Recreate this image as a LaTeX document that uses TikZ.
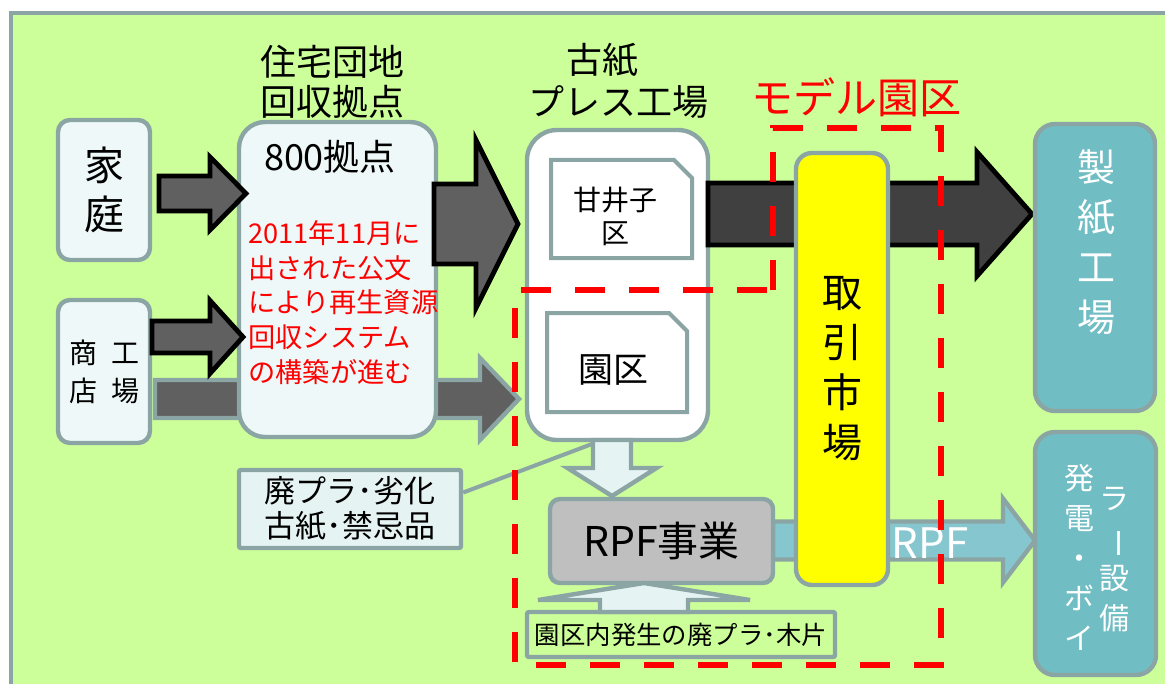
\documentclass[tikz,border=0pt]{standalone}
\usepackage{fontspec}
\setmainfont{Noto Sans CJK JP}
\usetikzlibrary{calc}
\definecolor{bggreen}{RGB}{204,255,153}
\definecolor{edgegray}{RGB}{139,165,165}
\definecolor{paleblue}{RGB}{239,248,248}
\definecolor{palecyan}{RGB}{230,243,243}
\definecolor{arrowgray}{RGB}{96,96,96}
\definecolor{arrowdark}{RGB}{64,64,64}
\definecolor{boxteal}{RGB}{112,189,196}
\definecolor{rpfteal}{RGB}{134,198,206}
\definecolor{rpfgray}{RGB}{191,191,191}
\definecolor{marketyellow}{RGB}{255,255,0}
\tikzset{
  box/.style={draw=edgegray, line width=2.2pt, fill=paleblue, rounded corners=6pt, inner sep=0pt},
  doc/.style={draw=edgegray, line width=2pt, fill=white},
  blackarrow/.style={draw=black, line width=2.4pt, fill=arrowgray},
  darkarrow/.style={draw=black, line width=2.4pt, fill=arrowdark},
  grayarrow/.style={draw=edgegray, line width=2.2pt, fill=arrowgray},
  lightarrow/.style={draw=edgegray, line width=2.2pt, fill=palecyan},
  rpfarrow/.style={draw=edgegray, line width=2.2pt, fill=rpfteal},
  callout/.style={draw=edgegray, line width=2pt},
  zone/.style={draw=red, line width=3pt, dash pattern=on 15pt off 12pt}
}
% block arrows: [style](start)(tip){shaft half}{head half}{head length}
\def\harrow[#1](#2)(#3)#4#5#6{\draw[#1] ($(#2)-(0,#4)$) -- ($(#3)-(#6,#4)$) -- ($(#3)-(#6,#5)$) -- (#3) -- ($(#3)-(#6,-#5)$) -- ($(#3)-(#6,-#4)$) -- ($(#2)-(0,-#4)$) -- cycle;}
\def\varrow[#1](#2)(#3)#4#5#6{\draw[#1] ($(#2)-(#4,0)$) -- ($(#3)-(#4,#6)$) -- ($(#3)-(#5,#6)$) -- (#3) -- ($(#3)-(-#5,#6)$) -- ($(#3)-(-#4,#6)$) -- ($(#2)-(-#4,0)$) -- cycle;}

\begin{document}
\begin{tikzpicture}[x=0.5pt,y=-0.5pt]
	%%%%% START %%%%%
	\useasboundingbox[fill=white] (0,0) rectangle (1165,684);
	\draw[draw=edgegray, line width=2pt, fill=bggreen] (11,13) rectangle (1200,720);
	
	% sources
	\node[box, minimum width=46pt, minimum height=70pt, align=center, font=\fontsize{20pt}{24.5pt}\selectfont] (kate) at (104,190) {家\\庭};
	\node[box, minimum width=46pt, minimum height=71.5pt, align=center, font=\fontsize{14pt}{19pt}\selectfont] (shoko) at (104,371.5) {商\hspace{7pt}工\\店\hspace{7pt}場};
	
	\coordinate (a3s) at (155,399);
	\coordinate (a3t) at (519,399);
	\harrow[grayarrow](a3s)(a3t){19}{41}{39}
	
	% collection points
	\node[box, rounded corners=13pt, minimum width=98.5pt, minimum height=157.5pt] (kyoten) at (337.5,279.5) {};
	\node[align=center, font=\fontsize{18pt}{20pt}\selectfont] (kyotentitle) at (332,82) {住宅団地\\回収拠点};
	\node[font=\fontsize{18pt}{20pt}\selectfont] (kyotennum) at (330,157) {800拠点};
	\node[anchor=west, inner sep=0pt, align=left, text=red, font=\fontsize{13.6pt}{17.4pt}\selectfont] (kyotennote) at (248,302.5) {2011年11月に\\出された公文\\により再生資源\\回収システム\\の構築が進む};
	
	\coordinate (a1s) at (159,193.5);
	\coordinate (a1t) at (246,193.5);
	\harrow[blackarrow](a1s)(a1t){17.5}{36.5}{36}
	\coordinate (a2s) at (152,337);
	\coordinate (a2t) at (243,337);
	\harrow[blackarrow](a2s)(a2t){16}{36.5}{33}
	
	% press plant
	\node[box, fill=white, rounded corners=15pt, minimum width=90.5pt, minimum height=155pt] (press) at (617.5,285) {};
	\node[font=\fontsize{18pt}{20pt}\selectfont] (presstop) at (602,60) {古紙};
	\node[font=\fontsize{18pt}{20pt}\selectfont] (pressname) at (618,102) {プレス工場};
	\draw[doc] (551,160) -- (674,160) -- (692,178) -- (692,258) -- (551,258) -- cycle;
	\node[align=center, font=\fontsize{14pt}{16.5pt}\selectfont] (amagoshi) at (615,216.5) {甘井子\\区};
	\draw[doc] (547,313) -- (669,313) -- (687,331) -- (687,412) -- (547,412) -- cycle;
	\node[font=\fontsize{17.5pt}{20pt}\selectfont] (enku) at (613,370) {園区};
	
	\coordinate (a4s) at (434,224);
	\coordinate (a4t) at (518,224);
	\harrow[blackarrow](a4s)(a4t){40}{84}{42}
	
	\coordinate (a5s) at (708,214);
	\coordinate (a5t) at (1032,214);
	\harrow[darkarrow](a5s)(a5t){31}{62}{55}
	
	\coordinate (a8s) at (773,540.5);
	\coordinate (a8t) at (1035,540.5);
	\harrow[rpfarrow](a8s)(a8t){19}{42}{32}
	
	% market and destinations
	\node[box, fill=marketyellow, rounded corners=8pt, minimum width=46pt, minimum height=216pt, align=center, font=\fontsize{20pt}{25pt}\selectfont] (ichiba) at (842,369) {取\\引\\市\\場};
	
	\node[box, fill=boxteal, rounded corners=10pt, minimum width=60pt, minimum height=143.5pt] (seishi) at (1095,267.5) {};
	\node[align=center, text=white, font=\fontsize{19pt}{25pt}\selectfont] (seishitext) at (1096,242.5) {製\\紙\\工\\場};
	
	\node[box, fill=boxteal, rounded corners=10pt, minimum width=60.5pt, minimum height=121.5pt] (hatsuden) at (1095.5,553.5) {};
	\node[align=center, text=white, font=\fontsize{15pt}{20pt}\selectfont] (hatsuL) at (1079,557) {発\\電\\・\\ボ\\イ};
	\node[align=center, text=white, font=\fontsize{15pt}{20pt}\selectfont] (hatsuR) at (1114,560) {ラ\\\rotatebox[origin=c]{-90}{ー}\\設\\備};
	
	% RPF
	\node[box, fill=rpfgray, rounded corners=5pt, minimum width=111.5pt, minimum height=42pt, font=\fontsize{20.5pt}{24pt}\selectfont] (rpf) at (661.5,541) {RPF事業};
	\node[box, fill=bggreen, rounded corners=1pt, minimum width=154pt, minimum height=22.5pt, font=\fontsize{12.7pt}{14pt}\selectfont] (nainai) at (681,634.5) {園区内発生の廃プラ･木片};
	\node[box, fill=palecyan, rounded corners=1pt, minimum width=111pt, minimum height=39pt, align=center, font=\fontsize{15.5pt}{17.5pt}\selectfont] (haipura) at (350,509) {廃プラ･劣化\\古紙･禁忌品};
	
	\coordinate (callend) at (592,444);
	\draw[callout] ($(haipura.north east)!0.3!(haipura.south east)$) -- (callend);
	
	\coordinate (a6s) at (612,440);
	\coordinate (a6t) at (612,496);
	\varrow[lightarrow](a6s)(a6t){19}{44.5}{28}
	\coordinate (a7s) at (644,612);
	\coordinate (a7t) at (644,583);
	\varrow[lightarrow](a7s)(a7t){44}{106}{-17}
	
	\node[text=white, font=\fontsize{21pt}{24pt}\selectfont] (rpflabel) at (930,543) {RPF};
	
	% model zone
	\node[text=red, font=\fontsize{21pt}{24pt}\selectfont] (zonetitle) at (856,97) {モデル園区};
	\draw[zone] (773,290) -- (773,128) -- (941,128) -- (941,665) -- (515,665) -- (515,290) -- cycle;
	
	%%%%% END %%%%%
\end{tikzpicture}
\end{document}
